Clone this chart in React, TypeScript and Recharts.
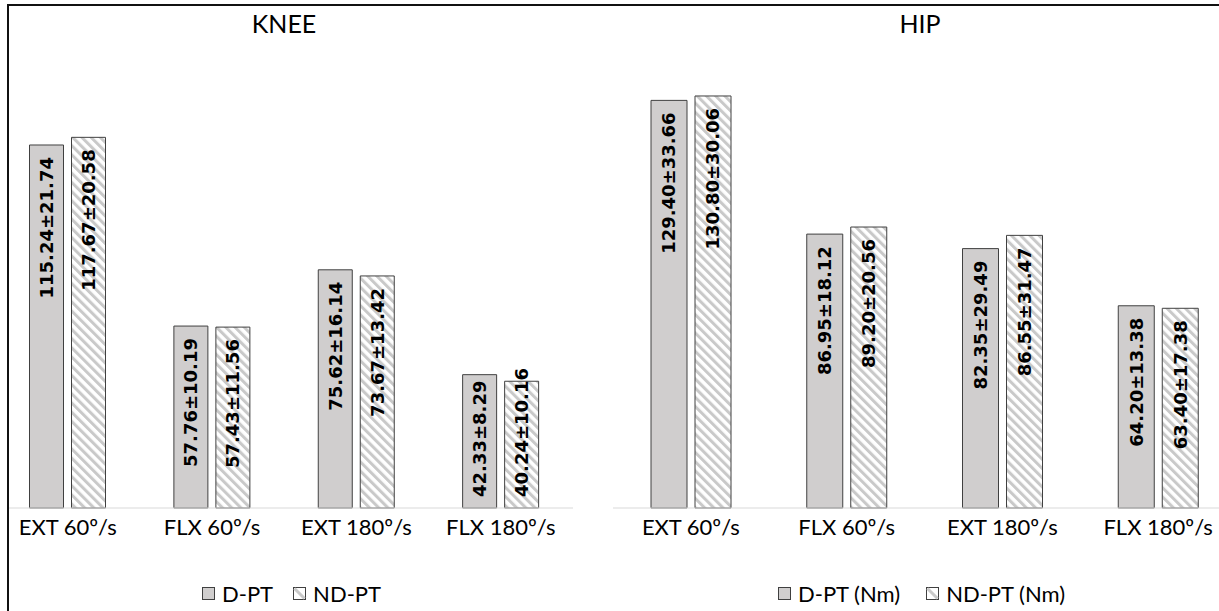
import { Bar, BarChart, LabelList, XAxis, YAxis } from 'recharts';

const categories = ['EXT 60º/s', 'FLX 60º/s', 'EXT 180º/s', 'FLX 180º/s'];

const kneeD = [115.24, 57.76, 75.62, 42.33];
const kneeDSd = [21.74, 10.19, 16.14, 8.29];
const kneeND = [117.67, 57.43, 73.67, 40.24];
const kneeNDSd = [20.58, 11.56, 13.42, 10.16];

const hipD = [129.4, 86.95, 82.35, 64.2];
const hipDSd = [33.66, 18.12, 29.49, 13.38];
const hipND = [130.8, 89.2, 86.55, 63.4];
const hipNDSd = [30.06, 20.56, 31.47, 17.38];

const FONT = 'Lato, "Open Sans", sans-serif';
const LABEL_FONT = '"DejaVu Sans", Verdana, sans-serif';
const LABEL_SIZE = 18;
const D_FILL = '#d0cece';
const EDGE = '#404040';

type Row = { cat: string; d: number; nd: number; dLab: string; ndLab: string };

function buildRows(d: number[], dSd: number[], nd: number[], ndSd: number[]): Row[] {
  return categories.map((cat, i) => ({
    cat,
    d: d[i],
    nd: nd[i],
    dLab: `${d[i].toFixed(2)}±${dSd[i].toFixed(2)}`,
    ndLab: `${nd[i].toFixed(2)}±${ndSd[i].toFixed(2)}`,
  }));
}

// rough DejaVu Sans Bold advance widths, in em
function textLen(s: string) {
  let w = 0;
  for (const ch of s) w += ch === '.' ? 0.38 : ch === '±' ? 0.838 : 0.696;
  return w * LABEL_SIZE;
}

function BarLabel(props: any) {
  const { x, y, width, height, value } = props;
  const cx = Number(x) + Number(width) / 2;
  const top = Number(y);
  const h = Number(height);
  const fits = textLen(String(value)) + 20 <= h;
  const ay = fits ? top + 12 : top + h - 11;
  return (
    <text
      x={cx}
      y={ay}
      transform={`rotate(-90, ${cx}, ${ay})`}
      textAnchor={fits ? 'end' : 'start'}
      dominantBaseline="central"
      fontFamily={LABEL_FONT}
      fontWeight="bold"
      fontSize={LABEL_SIZE}
      fill="#000"
    >
      {value}
    </text>
  );
}

function PanelChart({
  id,
  rows,
  width,
  left,
  right,
  barSize,
}: {
  id: string;
  rows: Row[];
  width: number;
  left: number;
  right: number;
  barSize: number;
}) {
  return (
    <BarChart
      width={width}
      height={611}
      data={rows}
      margin={{ top: 67, right, bottom: 43, left }}
      barGap={8}
      barSize={barSize}
    >
      <defs>
        <pattern id={id} patternUnits="userSpaceOnUse" width="6.5" height="6.5" patternTransform="rotate(-45)">
          <rect width="6.5" height="6.5" fill="#fff" />
          <rect width="3" height="6.5" fill="#c9c9c9" />
        </pattern>
      </defs>
      <XAxis
        dataKey="cat"
        height={60}
        tickLine={false}
        tickSize={0}
        tickMargin={11}
        axisLine={{ stroke: '#d9d9d9' }}
        tick={{ fontSize: 22, fill: '#000', fontFamily: FONT }}
        interval={0}
      />
      <YAxis hide domain={[0, 140]} />
      <Bar dataKey="d" fill={D_FILL} stroke={EDGE} strokeWidth={1} isAnimationActive={false}>
        <LabelList dataKey="dLab" content={BarLabel} />
      </Bar>
      <Bar dataKey="nd" fill={`url(#${id})`} stroke={EDGE} strokeWidth={1} isAnimationActive={false}>
        <LabelList dataKey="ndLab" content={BarLabel} />
      </Bar>
    </BarChart>
  );
}

function LegendIcon({ hatch }: { hatch?: boolean }) {
  return (
    <svg width={13} height={13} style={{ display: 'block' }}>
      <rect x={0.5} y={0.5} width={12} height={12} fill={hatch ? '#fff' : D_FILL} stroke={EDGE} />
      {hatch && <line x1={1.5} y1={1.5} x2={11.5} y2={11.5} stroke="#c9c9c9" strokeWidth={3} />}
    </svg>
  );
}

function Legend({ left, items, gap }: { left: number; items: string[]; gap: number }) {
  return (
    <div
      style={{
        position: 'absolute',
        left,
        top: 580,
        display: 'flex',
        alignItems: 'center',
        gap,
        fontSize: 22,
        fontFamily: FONT,
        color: '#000',
        whiteSpace: 'nowrap',
      }}
    >
      {items.map((t, i) => (
        <div key={t} style={{ display: 'flex', alignItems: 'center', gap: 7 }}>
          <LegendIcon hatch={i === 1} />
          <span>{t}</span>
        </div>
      ))}
    </div>
  );
}

function Title({ cx, text }: { cx: number; text: string }) {
  return (
    <div
      style={{
        position: 'absolute',
        left: cx - 100,
        width: 200,
        top: 8,
        textAlign: 'center',
        fontSize: 25,
        fontFamily: FONT,
        color: '#000',
      }}
    >
      {text}
    </div>
  );
}

export default function App() {
  const kneeRows = buildRows(kneeD, kneeDSd, kneeND, kneeNDSd);
  const hipRows = buildRows(hipD, hipDSd, hipND, hipNDSd);
  return (
    <div
      style={{
        position: 'absolute',
        left: 0,
        top: 0,
        width: 1219,
        height: 611,
        overflow: 'hidden',
        background: '#fff',
      }}
    >
      <div style={{ position: 'absolute', left: 9, top: 0, width: 590, height: 611, overflow: 'hidden' }}>
        <div style={{ position: 'absolute', left: -39, top: 0 }}>
          <PanelChart id="kneeHatch" rows={kneeRows} width={620} left={25.5} right={17} barSize={34} />
        </div>
      </div>
      <div style={{ position: 'absolute', left: 590, top: 0 }}>
        <PanelChart id="hipHatch" rows={hipRows} width={680} left={23} right={34} barSize={36} />
      </div>
      <Title cx={284} text="KNEE" />
      <Title cx={920} text="HIP" />
      <Legend left={202} items={['D-PT', 'ND-PT']} gap={20} />
      <Legend left={778} items={['D-PT (Nm)', 'ND-PT (Nm)']} gap={26} />
      <div style={{ position: 'absolute', left: 7, top: 4, width: 1212, height: 2, background: '#111' }} />
      <div style={{ position: 'absolute', left: 7, top: 4, width: 2, height: 607, background: '#111' }} />
    </div>
  );
}
